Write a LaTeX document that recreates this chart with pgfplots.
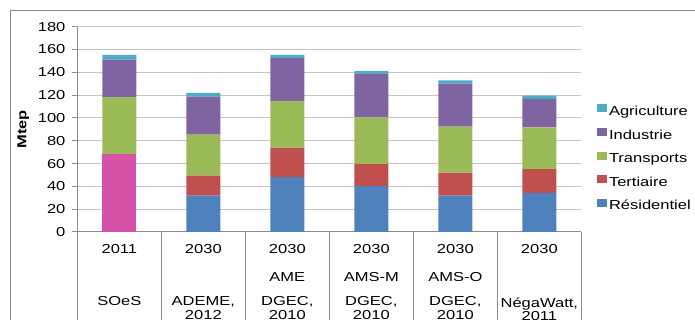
\documentclass[border=0pt]{standalone}
\usepackage{fontspec}
\setmainfont{Liberation Sans}[FakeStretch=1.27]
\usepackage{pgfplots}
\pgfplotsset{compat=1.18}
\definecolor{cRes}{HTML}{4F81BD}
\definecolor{cTer}{HTML}{C0504D}
\definecolor{cTra}{HTML}{9BBB59}
\definecolor{cInd}{HTML}{8064A2}
\definecolor{cAgr}{HTML}{4BACC6}
\definecolor{cPink}{HTML}{D652A9}
\definecolor{frame}{HTML}{888888}
\definecolor{gridc}{HTML}{C4C4C4}
\definecolor{axc}{HTML}{8C8C8C}
\begin{document}
\begin{tikzpicture}
\path[use as bounding box] (0,0) rectangle (521.25pt,240pt);
\clip (0,0) rectangle (521.25pt,240pt);
\draw[color=frame, line width=1pt] (7.9pt,-10pt) rectangle (540pt,232.1pt);
\begin{axis}[
  at={(58pt,66pt)}, anchor=south west,
  scale only axis, width=378pt, height=154pt,
  ybar stacked, bar width=25.5pt,
  xmin=-0.5, xmax=5.5, ymin=0, ymax=180,
  ytick={0,20,...,180},
  xtick={-0.5,0.5,...,5.5},
  x tick label as interval,
  xticklabels={
    {2011\\[11pt]\strut\\[8pt]SOeS},
    {2030\\[11pt]\strut\\[8pt]ADEME,\\2012},
    {2030\\[11pt]AME\\[8pt]DGEC,\\2010},
    {2030\\[11pt]AMS-M\\[8pt]DGEC,\\2010},
    {2030\\[11pt]AMS-O\\[8pt]DGEC,\\2010},
    {2030\\[11pt]\strut\\[8pt]NégaWatt,\\2011}},
  axis x line*=bottom, axis y line*=left,
  axis line style={color=axc, line width=0.75pt},
  tick align=outside, major tick length=3.75pt,
  tick style={color=axc, line width=0.75pt},
  ymajorgrids, grid style={color=gridc, line width=0.75pt},
  /pgf/number format/assume math mode=true,
  ticklabel style={font=\fontsize{9.75}{10}\selectfont},
  xticklabel style={align=center, anchor=north, inner sep=0pt, yshift=-5.5pt},
  yticklabel style={inner sep=0pt, xshift=-5pt},
  ylabel={\textbf{Mtep}},
  ylabel style={at={(axis description cs:-0.1075,0.5)}, anchor=center, font=\fontsize{9.75}{10}\selectfont},
  clip=false,
  reverse legend,
  legend cell align=left,
  legend image code/.code={\fill[#1] (0pt,-0.3pt) rectangle (7.5pt,5.7pt);},
  legend style={at={(1.0306,0.355)}, anchor=west, draw=none, fill=none, inner sep=0pt,
    row sep=5.7pt, column sep=0pt, font=\fontsize{9.75}{10}\selectfont,
    nodes={inner sep=1.5pt, text height=7.2pt, text depth=1.8pt}},
]
\addplot+[fill=cPink, draw=none, forget plot] coordinates {(0,68.4) (1,0) (2,0) (3,0) (4,0) (5,0)};
\addplot+[fill=cRes, draw=none] coordinates {(0,0) (1,31.9) (2,48.2) (3,40.3) (4,31.9) (5,34.2)};
\addplot+[fill=cTer, draw=none] coordinates {(0,0) (1,17.5) (2,25.7) (3,19.3) (4,20.1) (5,21.0)};
\addplot+[fill=cTra, draw=none] coordinates {(0,49.9) (1,35.9) (2,40.9) (3,40.9) (4,40.3) (5,36.6)};
\addplot+[fill=cInd, draw=none] coordinates {(0,32.7) (1,33.3) (2,37.7) (3,38.0) (4,37.7) (5,24.8)};
\addplot+[fill=cAgr, draw=none] coordinates {(0,4.2) (1,3.3) (2,2.7) (3,2.6) (4,3.0) (5,2.9)};
\legend{Résidentiel,Tertiaire,Transports,Industrie,Agriculture}
\pgfplotsinvokeforeach{-0.5,0.5,1.5,2.5,3.5,4.5,5.5}{
  \draw[color=axc, line width=0.75pt] (axis cs:#1,0) -- ++(0pt,-80pt);
}
\end{axis}
\end{tikzpicture}
\end{document}
